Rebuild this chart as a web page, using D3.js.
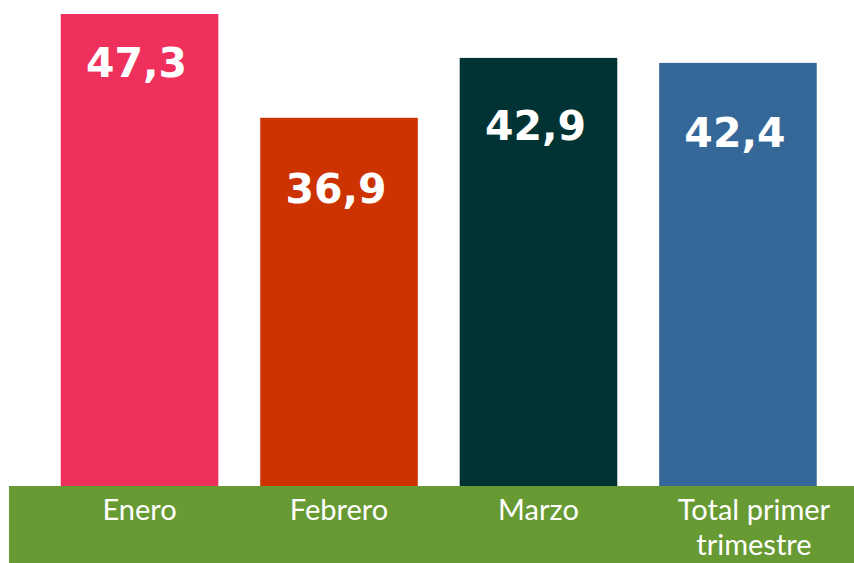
<!DOCTYPE html>
<html>
<head>
<meta charset="utf-8">
<script src="https://cdn.jsdelivr.net/npm/d3@7"></script>
<style>
  html, body { margin: 0; padding: 0; background: #ffffff; }
  svg { display: block; }
</style>
</head>
<body>
<svg id="chart" width="854" height="563"></svg>
<script>
// ---- data ----
const categories = ["Enero", "Febrero", "Marzo", "Total primer trimestre"];
const categoryLines = [["Enero"], ["Febrero"], ["Marzo"], ["Total primer", "trimestre"]];
const values = [47.3, 36.9, 42.9, 42.4];
const valueLabels = ["47,3", "36,9", "42,9", "42,4"];
const barColors = ["#EF305D", "#CC3300", "#013334", "#356899"];

// ---- layout / style ----
const W = 854, H = 563;
const baseline = 486;
const bandColor = "#679A33";
const valueLabelDy = [63, 85, 82, 84];

const svg = d3.select("#chart");

const x = d3.scaleBand()
  .domain(categories)
  .range([60.75, 816.75])
  .paddingInner(0.21)
  .paddingOuter(0);

const y = d3.scaleLinear()
  .domain([0, 47.3])
  .range([baseline, 14]);

const data = categories.map((c, i) => ({
  cat: c, v: values[i], label: valueLabels[i], color: barColors[i],
  lines: categoryLines[i], dy: valueLabelDy[i]
}));

// bars
svg.append("g").selectAll("rect")
  .data(data)
  .join("rect")
  .attr("x", d => x(d.cat))
  .attr("y", d => y(d.v))
  .attr("width", x.bandwidth())
  .attr("height", d => y(0) - y(d.v))
  .attr("fill", d => d.color);

// green axis band
svg.append("rect")
  .attr("x", 9)
  .attr("y", baseline)
  .attr("width", W - 9)
  .attr("height", H - baseline)
  .attr("fill", bandColor);

// value labels
svg.append("g").selectAll("text")
  .data(data)
  .join("text")
  .attr("x", d => x(d.cat) + x.bandwidth() / 2 - 3)
  .attr("y", d => y(d.v) + d.dy)
  .attr("text-anchor", "middle")
  .attr("fill", "#ffffff")
  .attr("font-family", "'DejaVu Sans', sans-serif")
  .attr("font-weight", "bold")
  .attr("font-size", 41)
  .text(d => d.label);

// category labels
const cl = svg.append("g").selectAll("text")
  .data(data)
  .join("text")
  .attr("y", 520)
  .attr("text-anchor", "middle")
  .attr("fill", "#ffffff")
  .attr("font-family", "Lato, sans-serif")
  .attr("font-size", 29);

cl.selectAll("tspan")
  .data(d => d.lines.map(l => ({ l, x: x(d.cat) + x.bandwidth() / 2 + (d.lines.length > 1 ? 16 : 0) })))
  .join("tspan")
  .attr("x", t => t.x)
  .attr("dy", (t, i) => i === 0 ? 0 : 35)
  .text(t => t.l);
</script>
</body>
</html>
